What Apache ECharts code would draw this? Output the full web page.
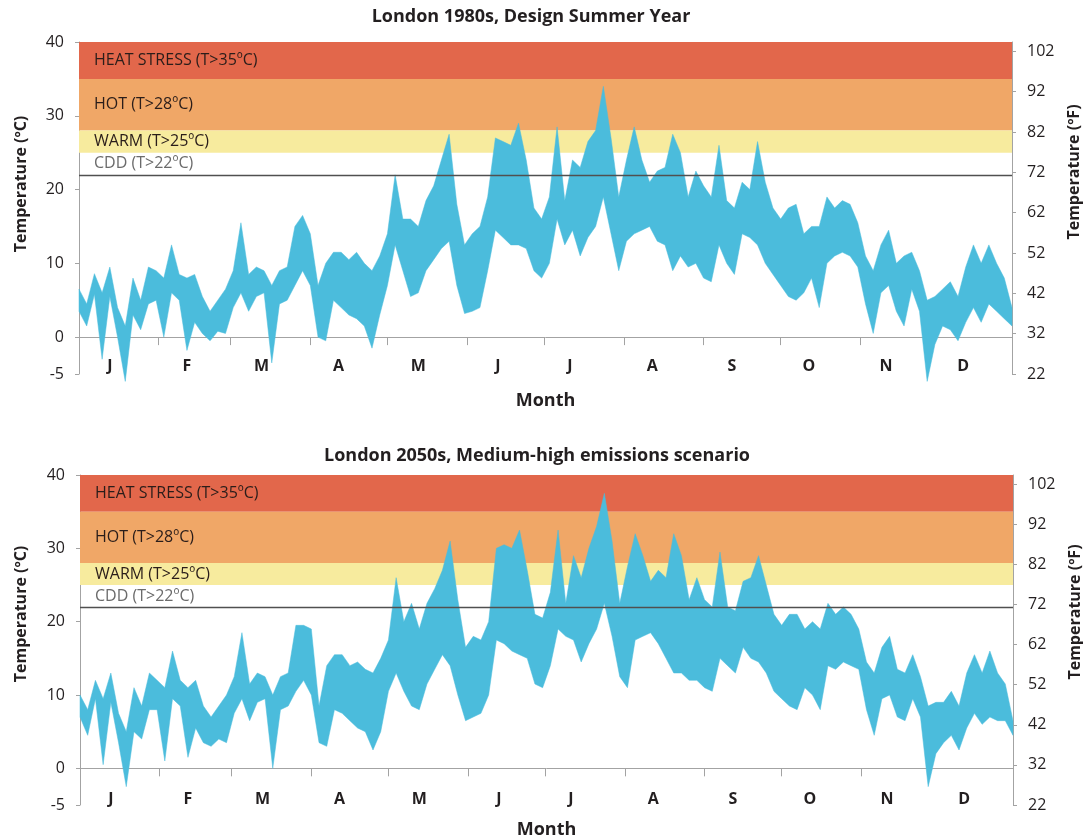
<!DOCTYPE html>
<html>
<head>
<meta charset="utf-8">
<script src="https://cdn.jsdelivr.net/npm/echarts@6/dist/echarts.min.js"></script>
<style>html,body{margin:0;padding:0;background:#fff}#c{width:1083px;height:838px}</style>
</head>
<body>
<div id="c"></div>
<script>
// ---------------- DATA ----------------
const titles = ['London 1980s, Design Summer Year', 'London 2050s, Medium-high emissions scenario'];
const monthLabels = ['J','F','M','A','M','J','J','A','S','O','N','D'];
const monthLabelDays = [12, 42, 71, 101, 132, 163, 191, 223, 254, 284, 314, 344];
const monthStartDays = [31, 59, 90, 120, 151, 181, 212, 243, 273, 304];
const celsiusTicks = [-5, 0, 10, 20, 30, 40];
const fahrenheitTicks = [22, 32, 42, 52, 62, 72, 82, 92, 102];
const bandNames = ['HEAT STRESS (T>35ºC)', 'HOT (T>28ºC)', 'WARM (T>25ºC)', 'CDD (T>22ºC)'];
const bandFrom = [35, 28, 25, 22];
const bandTo = [40, 35, 28, 25];
const cddThreshold = 22;
const sampleStepDays = 3; // one sample every 3 days, starting 1 Jan

// daily max / min (°C), sampled every 3 days
const hi1980 = [6.5,4.5,8.6,6,9.5,4,1.5,8,5,9.5,9,8,12.5,8.5,8,8.5,5.5,3.5,5,6.5,9,15.5,8.5,9.5,9,7,9,9.5,15,16.5,
  14,7,10,11.5,11.5,10.5,11.5,10,9,11,14,22,16,16,15,18.5,20.5,24,27.5,18,12.5,14,15,19,27,26.5,26,29,24,17.5,
  16,19,28.5,18.5,24,23,26.5,28,34,27,19,24,28.5,24,21,22.5,23,27.5,25,19,22.5,20.5,19,26,18.5,17.5,21,20,26.5,21,
  17.5,16,17.5,18,14,15,15,19,17.5,18.5,18,15.5,11,9,12.5,14.5,10,11,11.5,9,5,5.5,6.5,7.5,5.5,9.5,12.5,10,12.5,10,
  8,4];
const lo1980 = [3.5,1.5,5.8,-3,5.5,0,-6,3,1,4.5,5,0,6,5,-1.8,2,0.5,-0.5,0.8,0.5,4,6,3.5,5.5,6,-3.5,4.5,5,7,9,
  7,0,-0.5,5,4,3,2.5,1.5,-1.5,3,7,12.5,9,5.5,6,9,10.5,12,13,7,3.2,3.5,4,9,14.5,13.5,12.5,12.5,12,9,
  8,10,16,12.5,14.5,11,13.5,15,19,14,9,13,14,14.5,15,13,12.5,9,11,9.5,10,8,7.5,12.5,10,8.5,14,13.5,12.5,10,
  8.5,7,5.5,5,6,8,4,10,11,11.5,11,9.5,4.5,0.5,6,7,3.5,1.5,6.5,3.5,-6,-1,1.5,1,-0.5,2,4,2,4.5,3.5,
  2.5,1.5];
const hi2050 = [10,8,12,9.5,13,7.5,5,11,8.5,13,12,11,16,12,11,12,8.5,7,8.5,10,12.5,18.5,11.5,13,12.5,10,12.5,13,19.5,19.5,
  19,8.5,14,15.5,15.5,14,14.5,13.5,13,15,17.5,26,20,22.5,19,22.5,24.5,27,31,23,16.5,18,17.5,20,30,30.5,30,32.5,27,21,
  20.5,24,32.5,22.5,29,26,30,33,37.5,31,22.5,27.5,32,29,25.5,27,26,32,29,23,26,23,22,29.5,22,21.5,25.5,26,29,25,
  21,19.5,21,21,19,20,19,22.5,21,22,21,19,14.5,13,16.5,18,13.5,13,15.5,12.5,8.5,9,9,10.5,8.5,13,15.5,13,16,13,
  11.5,6.5];
const lo2050 = [7,4.5,9.5,0.5,9,3.5,-2.5,5,4,8,8,1,9.5,8.5,1.5,5.5,3.5,3,4,3.5,7.5,9.5,6.5,9,9.5,0,8,8.5,10.5,12,
  10,3.5,3,8,7.5,6.5,5.5,5,2.5,5,10.5,13,10.5,8.5,8,11.5,13.5,15.5,14,10,6.5,7,7.5,10,17.5,17,16,15.5,15,11.5,
  11,14,19,18,17.5,14.5,17,19,22.5,18,12.5,11,17.5,18,18.5,17,15,13,13,12,12,11,10.5,15,14,13,16.5,15,14.5,13,
  10.5,9.5,8.5,8,11,10,8,14,13.5,14.5,14,13.5,8,4.5,9.5,10,7,6.5,9.5,7,-2.5,2,3.5,4.5,2.5,5.5,7.5,6,7,6.5,
  6.5,4.5];

// ---------------- STYLE ----------------
const FONT = "'Open Sans', 'Noto Sans', sans-serif";
const BAND_COLORS = ['#e2674b', '#f0a767', '#f7eb9e', 'rgba(255,255,255,0)'];
const BAND_TEXT = ['#2a1d1a', '#2a1d1a', '#2a1d1a', '#6b6b6b'];
const AREA_BLUE = '#4bbcdc';
const AXIS_GRAY = '#a3a3a3';
const TEXT = '#231f20';

const panels = [
  { hi: hi1980, lo: lo1980, grid: {left: 79, top: 42, width: 933, height: 332},
    labelMargin: -16, nameGap: 18,
    title: [531, 17], leftName: [21, 184], rightName: [1074, 172] },
  { hi: hi2050, lo: lo2050, grid: {left: 80, top: 475, width: 933, height: 330},
    labelMargin: -14, nameGap: 16,
    title: [537, 456], leftName: [21, 614], rightName: [1075, 612] }
];

const grids = [], xAxes = [], yAxes = [], series = [], graphics = [];

panels.forEach((p, i) => {
  grids.push(Object.assign({containLabel: false, outerBoundsMode: 'none'}, p.grid));
  const days = p.hi.map((_, k) => k * sampleStepDays);
  const maxDay = days[days.length - 1];

  xAxes.push({
    type: 'value', gridIndex: i, min: 0, max: maxDay,
    axisLine: {show: true, onZero: true, onZeroAxisIndex: i * 2, lineStyle: {color: AXIS_GRAY, width: 1}},
    axisTick: {show: true, customValues: monthStartDays, length: 8, inside: false, lineStyle: {color: AXIS_GRAY}},
    axisLabel: {show: true, customValues: monthLabelDays, margin: p.labelMargin,
      formatter: v => monthLabels[monthLabelDays.indexOf(v)] || '',
      fontFamily: FONT, fontWeight: 'bold', fontSize: 16, color: TEXT},
    splitLine: {show: false},
    name: 'Month', nameLocation: 'middle', nameGap: p.nameGap, nameMoveOverlap: false,
    nameTextStyle: {fontFamily: FONT, fontWeight: 'bold', fontSize: 18, color: TEXT}
  });

  yAxes.push({
    type: 'value', gridIndex: i, position: 'left', min: -5, max: 40,
    axisLine: {show: true, onZero: false, lineStyle: {color: AXIS_GRAY}},
    axisTick: {show: true, customValues: celsiusTicks, length: 4, lineStyle: {color: AXIS_GRAY}},
    axisLabel: {show: true, customValues: celsiusTicks, margin: 15, fontFamily: FONT, fontSize: 16, color: TEXT},
    splitLine: {show: false}
  });
  yAxes.push({
    type: 'value', gridIndex: i, position: 'right', min: 22, max: 104.3,
    axisLine: {show: true, onZero: false, lineStyle: {color: AXIS_GRAY}},
    axisTick: {show: true, customValues: fahrenheitTicks, length: 4, lineStyle: {color: AXIS_GRAY}},
    axisLabel: {show: true, customValues: fahrenheitTicks, margin: 15, fontFamily: FONT, fontSize: 16, color: TEXT},
    splitLine: {show: false}
  });

  const bandData = bandNames.map((name, b) => [
    { name: name, yAxis: bandFrom[b], itemStyle: {color: BAND_COLORS[b]},
      label: {show: true, position: 'insideLeft', distance: 15, formatter: '{b}',
        fontFamily: FONT, fontSize: 16, color: BAND_TEXT[b]} },
    { yAxis: bandTo[b] }
  ]);

  const rows = days.map((d, k) => [d, p.lo[k], p.hi[k]]);

  // min-max temperature range drawn as one polygon through the axes' scales
  series.push({
    type: 'custom', name: 'range' + i, xAxisIndex: i, yAxisIndex: i * 2,
    data: rows, encode: {x: 0, y: [1, 2]}, silent: true, z: 3, clip: false,
    renderItem: (params, api) => {
      if (params.dataIndex !== 0) return null;
      const upper = rows.map(r => api.coord([r[0], r[2]]));
      const lower = rows.map(r => api.coord([r[0], r[1]])).reverse();
      return {type: 'polygon', shape: {points: upper.concat(lower)},
        style: {fill: AREA_BLUE, stroke: AREA_BLUE, lineWidth: 0.5}};
    },
    markArea: {silent: true, data: bandData},
    markLine: {silent: true, symbol: 'none', animation: false,
      lineStyle: {color: '#505050', width: 1.3, type: 'solid'},
      label: {show: false}, data: [{yAxis: cddThreshold}]}
  });

  graphics.push({type: 'text', x: p.title[0], y: p.title[1],
    style: {text: titles[i], align: 'center', verticalAlign: 'middle',
      font: `bold 18px ${FONT}`, fill: TEXT}});
  graphics.push({type: 'text', x: p.leftName[0], y: p.leftName[1], rotation: Math.PI / 2,
    style: {text: 'Temperature (ºC)', align: 'center', verticalAlign: 'middle',
      font: `bold 16px ${FONT}`, fill: TEXT}});
  graphics.push({type: 'text', x: p.rightName[0], y: p.rightName[1], rotation: Math.PI / 2,
    style: {text: 'Temperature (ºF)', align: 'center', verticalAlign: 'middle',
      font: `bold 16px ${FONT}`, fill: TEXT}});
});

const chart = echarts.init(document.getElementById('c'), null, {renderer: 'canvas', width: 1083, height: 838});
chart.setOption({
  animation: false,
  backgroundColor: '#ffffff',
  grid: grids, xAxis: xAxes, yAxis: yAxes, series: series,
  graphic: {elements: graphics}
});
</script>
</body>
</html>
